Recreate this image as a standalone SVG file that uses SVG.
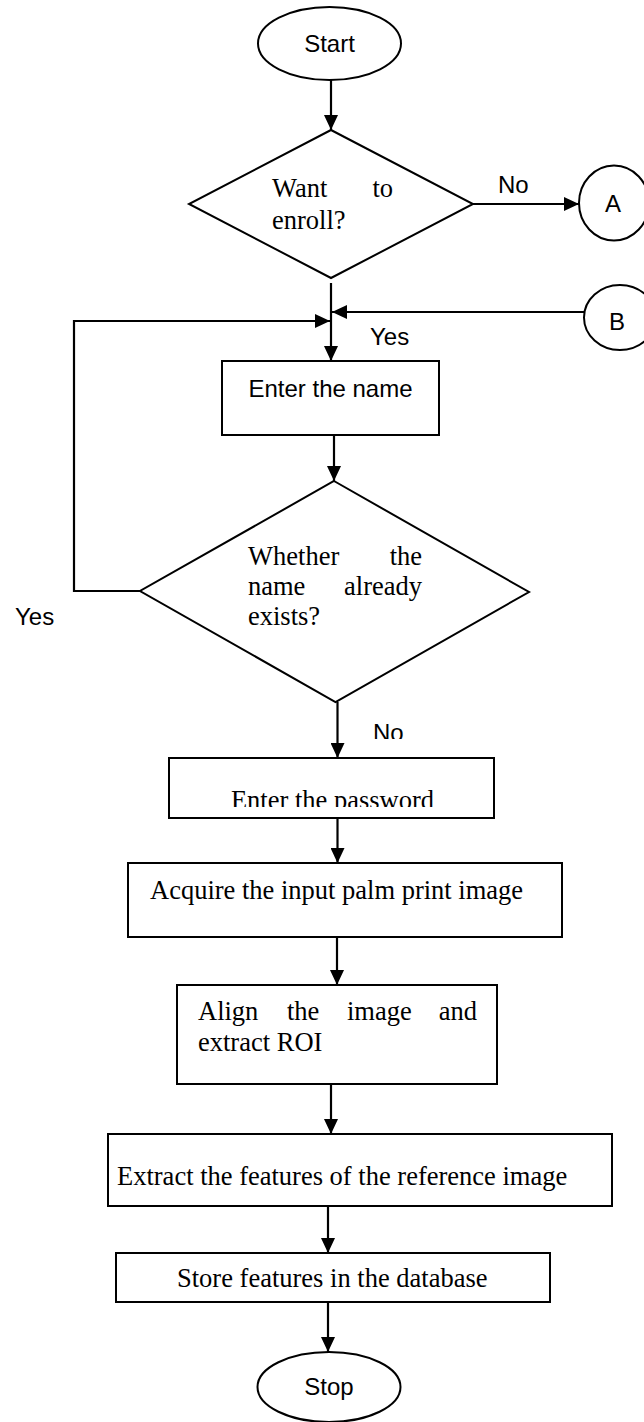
<svg xmlns="http://www.w3.org/2000/svg" width="644" height="1422" viewBox="0 0 644 1422">
<style>
.shape{fill:#fff;stroke:#000;stroke-width:2}
.conn{fill:none;stroke:#000;stroke-width:2.2}
.sans{font-family:"Liberation Sans",Arial,sans-serif;font-size:24px;fill:#000}
.serif{font-family:"Liberation Serif","Times New Roman",serif;font-size:26.5px;fill:#000}
</style>
<defs>
<marker id="arr" markerUnits="userSpaceOnUse" markerWidth="15" markerHeight="14" refX="15" refY="7" orient="auto">
<path d="M0,0 L15,7 L0,14 z" fill="#000"/>
</marker>
<clipPath id="clipNo"><rect x="360" y="700" width="80" height="39"/></clipPath>
<clipPath id="clipPw"><rect x="170" y="760" width="320" height="47"/></clipPath>
</defs>
<rect width="644" height="1422" fill="#fff"/>

<g id="connectors">
<line class="conn" x1="331" y1="80" x2="331" y2="130" marker-end="url(#arr)"/>
<line class="conn" x1="473" y1="204" x2="579" y2="204" marker-end="url(#arr)"/>
<line class="conn" x1="331" y1="283" x2="331" y2="361" marker-end="url(#arr)"/>
<line class="conn" x1="584" y1="312" x2="332" y2="312" marker-end="url(#arr)"/>
<polyline class="conn" points="140,591 74,591 74,321 330,321" marker-end="url(#arr)"/>
<line class="conn" x1="334" y1="435" x2="334" y2="481" marker-end="url(#arr)"/>
<line class="conn" x1="337.5" y1="702" x2="337.5" y2="758" marker-end="url(#arr)"/>
<line class="conn" x1="337.5" y1="818" x2="337.5" y2="863" marker-end="url(#arr)"/>
<line class="conn" x1="337" y1="937" x2="337" y2="985" marker-end="url(#arr)"/>
<line class="conn" x1="331" y1="1084" x2="331" y2="1134" marker-end="url(#arr)"/>
<line class="conn" x1="328" y1="1206" x2="328" y2="1253" marker-end="url(#arr)"/>
<line class="conn" x1="328" y1="1302" x2="328" y2="1352" marker-end="url(#arr)"/>
<text class="sans" x="498" y="193">No</text>
<text class="sans" x="370" y="345">Yes</text>
<text class="sans" x="15" y="625">Yes</text>
<text class="sans" x="373" y="741" clip-path="url(#clipNo)">No</text>
</g>

<g id="start">
<ellipse class="shape" cx="329.5" cy="43.5" rx="71.5" ry="36.5"/>
<text class="sans" x="329.5" y="52" text-anchor="middle">Start</text>
</g>

<g id="want-enroll">
<polygon class="shape" points="331,130 473,204 331,278 189,204"/>
<text class="serif" x="272" y="197">Want</text>
<text class="serif" x="393" y="197" text-anchor="end">to</text>
<text class="serif" x="272" y="229">enroll?</text>
</g>

<g id="connector-a">
<ellipse class="shape" cx="614" cy="203" rx="35" ry="37.5"/>
<text class="sans" x="613" y="212" text-anchor="middle">A</text>
</g>

<g id="connector-b">
<ellipse class="shape" cx="620" cy="317.5" rx="36" ry="32.5"/>
<text class="sans" x="617" y="330" text-anchor="middle">B</text>
</g>

<g id="enter-name">
<rect class="shape" x="222" y="361" width="217" height="74"/>
<text class="sans" x="330.5" y="397" text-anchor="middle">Enter the name</text>
</g>

<g id="name-exists">
<polygon class="shape" points="334,481 529,592 335.5,702 140,591"/>
<text class="serif" x="248" y="565">Whether</text>
<text class="serif" x="422" y="565" text-anchor="end">the</text>
<text class="serif" x="248" y="595">name</text>
<text class="serif" x="422" y="595" text-anchor="end">already</text>
<text class="serif" x="248" y="625">exists?</text>
</g>

<g id="enter-password">
<rect class="shape" x="169" y="758" width="325" height="60"/>
<text class="serif" x="332.5" y="809" text-anchor="middle" clip-path="url(#clipPw)">Enter the password</text>
</g>

<g id="acquire">
<rect class="shape" x="128" y="863" width="434" height="74"/>
<text class="serif" x="150" y="899">Acquire the input palm print image</text>
</g>

<g id="align">
<rect class="shape" x="177" y="985" width="320" height="99"/>
<text class="serif" x="198" y="1020">Align</text>
<text class="serif" x="287" y="1020">the</text>
<text class="serif" x="347" y="1020">image</text>
<text class="serif" x="477" y="1020" text-anchor="end">and</text>
<text class="serif" x="198" y="1051">extract ROI</text>
</g>

<g id="extract">
<rect class="shape" x="108" y="1134" width="504" height="72"/>
<text class="serif" x="117" y="1185">Extract the features of the reference image</text>
</g>

<g id="store">
<rect class="shape" x="116" y="1253" width="434" height="49"/>
<text class="serif" x="177" y="1287">Store features in the database</text>
</g>

<g id="stop">
<ellipse class="shape" cx="329" cy="1387" rx="71.5" ry="35"/>
<text class="sans" x="329" y="1395" text-anchor="middle">Stop</text>
</g>
</svg>
